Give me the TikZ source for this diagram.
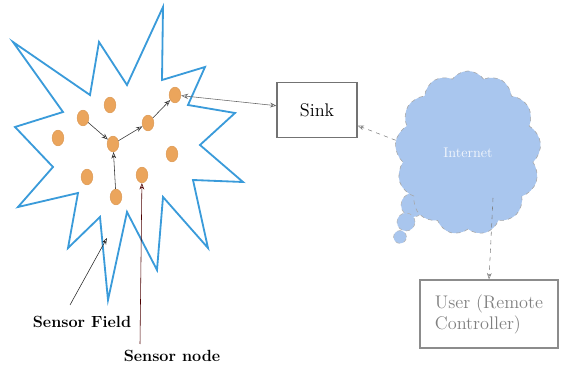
\documentclass[tikz,border=0pt]{standalone}
\usepackage{tikz}
\usetikzlibrary{shapes.symbols,shapes.geometric,arrows.meta}
\definecolor{fieldblue}{HTML}{3A9BDA}
\definecolor{nodeorange}{HTML}{EBA55C}
\definecolor{cloudblue}{HTML}{A9C6EE}
\tikzset{
    sensor/.style={ellipse, draw=nodeorange!70!brown, fill=nodeorange, minimum width=2.9mm, minimum height=3.9mm, inner sep=0mm},
    hop/.style={-{Stealth[length=1.6mm,open]}, thin, black!80},
    box/.style={rectangle, draw=black!55, thick, inner sep=2mm, font=\rmfamily\fontsize{13}{15}\selectfont},
    puff/.style={circle, fill=cloudblue, draw=black!30, dashed, inner sep=0mm},
    note/.style={font=\bfseries\rmfamily\fontsize{11.5}{13}\selectfont, inner sep=0mm}
}

\begin{document}
\begin{tikzpicture}[x=0.025cm, y=-0.025cm]
    \useasboundingbox (0,0) rectangle (562,367);

    % sensor field
    \draw[fieldblue, line width=1.3pt, line join=miter] (13,42) -- (90,95) -- (99,42) -- (127,85) -- (163,7)
        -- (162,80) -- (205,67) -- (188,105) -- (235,113) -- (200,145) -- (243,182) -- (193,180)
        -- (208,248) -- (163,197) -- (157,270) -- (127,212) -- (108,300) -- (100,217) -- (68,248)
        -- (78,193) -- (18,207) -- (53,167) -- (15,127) -- (63,112) -- cycle;

    \node[sensor] (s1) at (110,105) {};
    \node[sensor] (s2) at (83,118) {};
    \node[sensor] (s3) at (58,138) {};
    \node[sensor] (s4) at (113,144) {};
    \node[sensor] (s5) at (148,123) {};
    \node[sensor] (s6) at (175,95) {};
    \node[sensor] (s7) at (172,154) {};
    \node[sensor] (s8) at (87,177) {};
    \node[sensor] (s9) at (142,175) {};
    \node[sensor] (s10) at (116,197) {};

    \draw[hop] (s2) edge (s4);
    \draw[hop] (s10) edge (s4);
    \draw[hop] (s4) edge (s5);
    \draw[hop] (s5) edge (s6);

    % sink, internet and user
    \node[box, minimum width=2.0cm, minimum height=1.38cm] (sink) at (317,110) {Sink};

    \node[puff, minimum size=6mm] (t1) at (413,205) {};
    \node[puff, minimum size=4.5mm] (t2) at (406,222) {};
    \node[puff, minimum size=3.2mm] (t3) at (400,237) {};
    \node[cloud, cloud puffs=13, cloud puff arc=110, draw=black!35, dashed, fill=cloudblue,
        minimum width=3.65cm, minimum height=4.1cm, inner sep=0mm] (net) at (468,153) {\color{white!85!cloudblue}Internet};

    \node[box, draw=black!45, text=black!50, align=left, minimum width=3.45cm, minimum height=1.7cm] (user) at (489,314) {User (Remote\\Controller)};

    \draw[{Stealth[length=1.8mm,open]}-{Stealth[length=1.6mm,open]}, black!60] (s6) -- (sink);
    \draw[-{Stealth[length=1.6mm,open]}, black!50, dashed] (net.170) -- (sink);
    \coordinate (u0) at (493,198);
    \draw[-{Stealth[length=1.6mm,open]}, black!50, dashed] (u0) -- (user.north);

    % labels
    \node[note] (field) at (82,322) {Sensor Field};
    \node[note] (snode) at (172,356) {Sensor node};
    \coordinate (f0) at (70,305);
    \coordinate (f1) at (107,238);
    \coordinate (n0) at (140,344);
    \draw[-{Stealth[length=1.6mm,open]}, black!85] (f0) -- (f1);
    \draw[-{Stealth[length=1.6mm,open]}, black!70!red] (n0) -- (s9);
\end{tikzpicture}
\end{document}
